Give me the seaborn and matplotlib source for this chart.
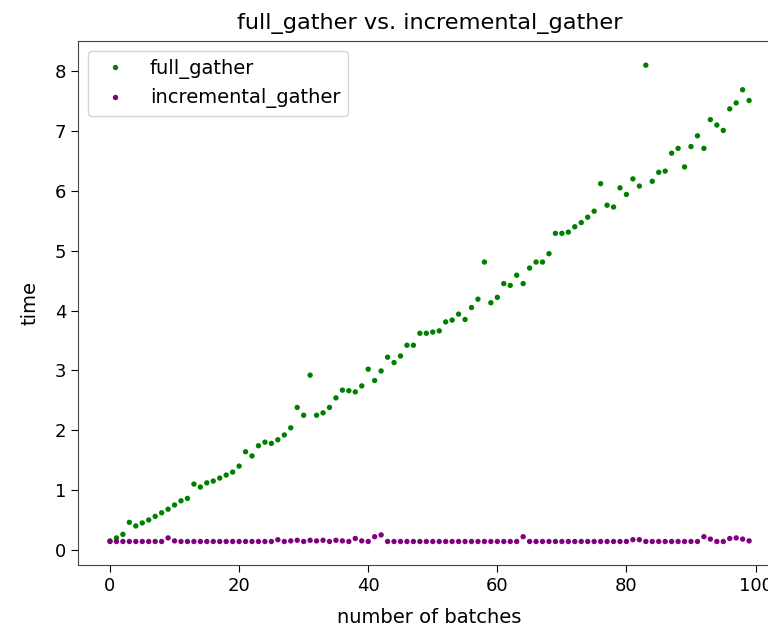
import matplotlib
matplotlib.use("Agg")
import matplotlib.pyplot as plt
import seaborn as sns
import pandas as pd

batches = list(range(100))

full_gather = [
    0.15, 0.20, 0.26, 0.46, 0.40, 0.45, 0.50, 0.56, 0.62, 0.68,
    0.75, 0.82, 0.86, 1.10, 1.05, 1.12, 1.15, 1.20, 1.25, 1.30,
    1.40, 1.64, 1.57, 1.74, 1.80, 1.78, 1.84, 1.92, 2.04, 2.38,
    2.25, 2.92, 2.25, 2.29, 2.38, 2.54, 2.67, 2.66, 2.64, 2.74,
    3.02, 2.83, 2.99, 3.22, 3.13, 3.24, 3.42, 3.42, 3.62, 3.62,
    3.64, 3.66, 3.81, 3.84, 3.94, 3.85, 4.05, 4.19, 4.81, 4.13,
    4.22, 4.45, 4.42, 4.59, 4.45, 4.71, 4.81, 4.81, 4.95, 5.29,
    5.29, 5.31, 5.40, 5.47, 5.56, 5.66, 6.12, 5.76, 5.73, 6.05,
    5.94, 6.20, 6.08, 8.10, 6.16, 6.31, 6.33, 6.63, 6.71, 6.40,
    6.74, 6.92, 6.71, 7.19, 7.10, 7.01, 7.37, 7.47, 7.69, 7.51,
]

incremental_gather = [
    0.14, 0.14, 0.14, 0.14, 0.14, 0.14, 0.14, 0.14, 0.14, 0.20,
    0.15, 0.14, 0.14, 0.14, 0.14, 0.14, 0.14, 0.14, 0.14, 0.14,
    0.14, 0.14, 0.14, 0.14, 0.14, 0.14, 0.17, 0.14, 0.15, 0.16,
    0.14, 0.16, 0.15, 0.16, 0.14, 0.16, 0.15, 0.14, 0.19, 0.15,
    0.14, 0.22, 0.25, 0.14, 0.14, 0.14, 0.14, 0.14, 0.14, 0.14,
    0.14, 0.14, 0.14, 0.14, 0.14, 0.14, 0.14, 0.14, 0.14, 0.14,
    0.14, 0.14, 0.14, 0.14, 0.22, 0.14, 0.14, 0.14, 0.14, 0.14,
    0.14, 0.14, 0.14, 0.14, 0.14, 0.14, 0.14, 0.14, 0.14, 0.14,
    0.14, 0.17, 0.17, 0.14, 0.14, 0.14, 0.14, 0.14, 0.14, 0.14,
    0.14, 0.14, 0.22, 0.18, 0.14, 0.14, 0.19, 0.20, 0.18, 0.15,
]

series_names = ["full_gather", "incremental_gather"]
series_colors = ["green", "purple"]

df = pd.concat([
    pd.DataFrame({"batches": batches, "time": full_gather, "series": series_names[0]}),
    pd.DataFrame({"batches": batches, "time": incremental_gather, "series": series_names[1]}),
])

plt.rcParams["font.family"] = ["DejaVu Sans"]

fig = plt.figure(figsize=(7.68, 6.30), dpi=100)
ax = fig.add_axes([0.1016, 0.1025, 0.9154, 0.832])

sns.scatterplot(
    data=df, x="batches", y="time", hue="series",
    palette=dict(zip(series_names, series_colors)),
    s=15, linewidth=0, ax=ax,
)

ax.set_xlim(-4.95, 103.95)
ax.set_ylim(-0.26, 8.5)
ax.set_xticks([0, 20, 40, 60, 80, 100])
ax.set_yticks([0, 1, 2, 3, 4, 5, 6, 7, 8])
ax.tick_params(labelsize=13, length=5)
ax.set_xlabel("number of batches", fontsize=14, labelpad=9)
ax.set_ylabel("time", fontsize=14, labelpad=11)
ax.set_title("full_gather vs. incremental_gather", fontsize=16.2, pad=9)

for sp in ax.spines.values():
    sp.set_visible(True)
    sp.set_color("#444444")

leg = ax.legend(loc="upper left", fontsize=14, markerscale=1.0,
                labelspacing=0.5, borderpad=0.4,
                frameon=True, title=None)

fig.savefig("out.png", dpi=100)
